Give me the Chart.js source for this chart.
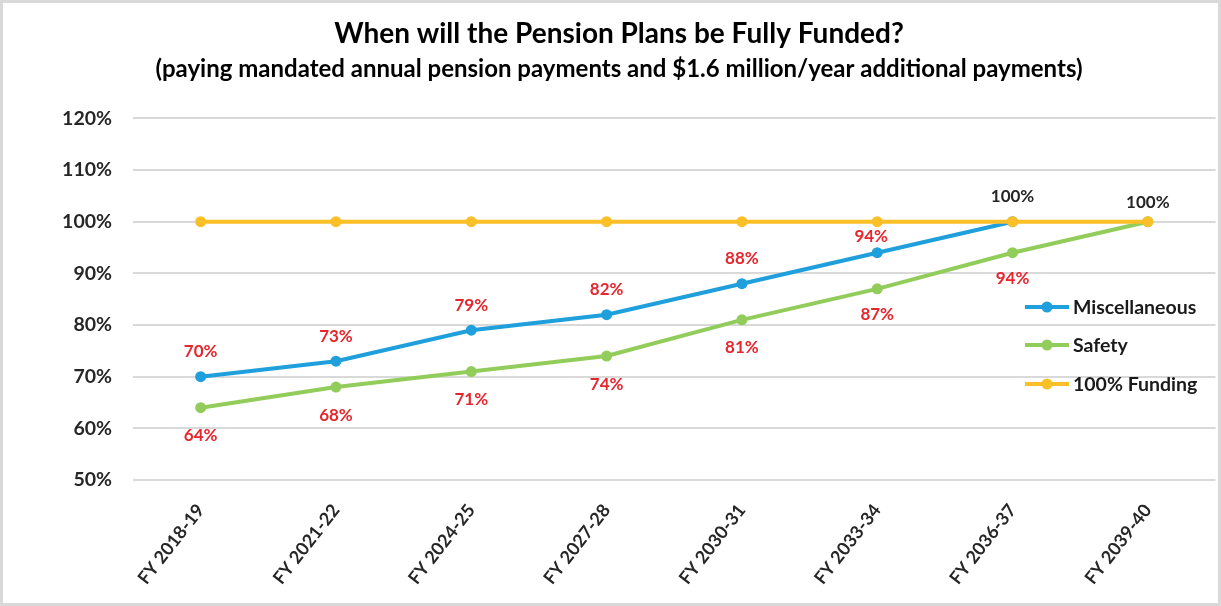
<!DOCTYPE html>
<html>
<head>
<meta charset="utf-8">
<title>Pension Funding Projection</title>
<script src="https://cdn.jsdelivr.net/npm/chart.js@4.4.1/dist/chart.umd.min.js"></script>
<style>
  html, body { margin: 0; padding: 0; background: #ffffff; }
  #wrap { position: relative; width: 1221px; height: 606px; }
</style>
</head>
<body>
<div id="wrap"><canvas id="chart" width="1221" height="606"></canvas></div>
<script>
// Fiscal years on the horizontal axis
const categories = ['FY 2018-19', 'FY 2021-22', 'FY 2024-25', 'FY 2027-28', 'FY 2030-31', 'FY 2033-34', 'FY 2036-37', 'FY 2039-40'];

// Funded ratio (%) for each plan
const miscellaneous = [70, 73, 79, 82, 88, 94, 100, null];
const safety        = [64, 68, 71, 74, 81, 87, 94, 100];
const fullFunding   = [100, 100, 100, 100, 100, 100, 100, 100];

// Y-axis tick values (%)
const yTicks = [50, 60, 70, 80, 90, 100, 110, 120];

const FONT = 'Lato, "Open Sans", "DejaVu Sans", sans-serif';
const BLUE = '#1f9fdb';
const GREEN = '#92cd5b';
const ORANGE = '#fbbf27';
const RED = '#e5262d';
const INK = '#262626';

// Thin grey frame round the whole picture
const framePlugin = {
  id: 'frame',
  beforeDraw(chart) {
    const c = chart.ctx;
    c.save();
    c.fillStyle = '#ffffff';
    c.fillRect(0, 0, chart.width, chart.height);
    c.strokeStyle = '#d9d9d9';
    c.lineWidth = 3;
    c.strokeRect(1.5, 1.5, chart.width - 3, chart.height - 3);
    c.restore();
  }
};

// Value labels: Miscellaneous above its points, Safety below; 100% in black above.
// A label that would sit on the 100% line is tucked in just under it.
const valueLabels = {
  id: 'valueLabels',
  afterDatasetsDraw(chart) {
    const c = chart.ctx;
    const yFull = chart.scales.y.getPixelForValue(100);
    c.save();
    c.font = 'bold 17px ' + FONT;
    c.textAlign = 'center';
    c.textBaseline = 'middle';
    [0, 1].forEach(di => {
      const meta = chart.getDatasetMeta(di);
      const data = chart.data.datasets[di].data;
      meta.data.forEach((pt, i) => {
        const v = data[i];
        if (v === null || v === undefined) return;
        let x = pt.x, y, color;
        if (v >= 100) {
          color = INK;
          y = pt.y + ((i === data.length - 1) ? -19 : -25);
        } else {
          color = RED;
          if (di === 0) {
            y = pt.y - 25;
            if (Math.abs(y - yFull) < 14) { y = pt.y - 16; x -= 6; }
          } else {
            y = pt.y + (v >= 85 ? 26 : 28);
          }
        }
        c.fillStyle = color;
        c.fillText(v + '%', x, y);
      });
    });
    c.restore();
  }
};

// Legend drawn inside the plot area, on the right
const insideLegend = {
  id: 'insideLegend',
  afterDraw(chart) {
    const c = chart.ctx;
    const ds = chart.data.datasets;
    const x0 = 1025, x1 = 1069, tx = 1073;
    const ys = [307, 345, 384];
    c.save();
    c.font = 'bold 19.5px ' + FONT;
    c.textBaseline = 'middle';
    c.textAlign = 'left';
    [0, 1, 2].forEach((di, k) => {
      const y = ys[k];
      const col = ds[di].borderColor;
      c.strokeStyle = col;
      c.lineWidth = 4;
      c.beginPath();
      c.moveTo(x0, y);
      c.lineTo(x1, y);
      c.stroke();
      c.fillStyle = col;
      c.beginPath();
      c.arc((x0 + x1) / 2, y, 5.5, 0, Math.PI * 2);
      c.fill();
      c.fillStyle = '#1a1a1a';
      c.fillText(ds[di].label, tx, y + 1);
    });
    c.restore();
  }
};

const chart = new Chart(document.getElementById('chart'), {
  type: 'line',
  data: {
    labels: categories,
    datasets: [
      { label: 'Miscellaneous', data: miscellaneous, borderColor: BLUE, backgroundColor: BLUE, order: 1 },
      { label: 'Safety', data: safety, borderColor: GREEN, backgroundColor: GREEN, order: 2 },
      { label: '100% Funding', data: fullFunding, borderColor: ORANGE, backgroundColor: ORANGE, order: 0 }
    ]
  },
  options: {
    responsive: false,
    animation: false,
    devicePixelRatio: 1,
    layout: { padding: { left: 20, right: 3, top: 0, bottom: 0 } },
    elements: {
      line: { borderWidth: 4, tension: 0, borderCapStyle: 'round' },
      point: { radius: 5.5, borderWidth: 0, hoverRadius: 5.5 }
    },
    plugins: {
      legend: { display: false },
      tooltip: { enabled: false },
      title: {
        display: true,
        text: 'When will the Pension Plans be Fully Funded?',
        color: '#000000',
        font: { family: FONT, size: 28, weight: 'bold', lineHeight: 1.2 },
        padding: { top: 17, bottom: 4 }
      },
      subtitle: {
        display: true,
        text: '(paying mandated annual pension payments and $1.6 million/year additional payments)',
        color: '#000000',
        font: { family: FONT, size: 24, weight: 'bold', lineHeight: 1.2 },
        padding: { top: 0, bottom: 35 }
      }
    },
    scales: {
      x: {
        offset: true,
        grid: { display: false, drawTicks: false },
        border: { display: false },
        ticks: {
          color: INK,
          font: { family: FONT, size: 18, weight: 'bold' },
          minRotation: 52,
          maxRotation: 52,
          padding: 20,
          autoSkip: false
        },
        afterFit(scale) { scale.height = 126; }
      },
      y: {
        min: 50,
        max: 120,
        afterBuildTicks(scale) { scale.ticks = yTicks.map(v => ({ value: v })); },
        grid: { color: '#d9d9d9', lineWidth: 2, drawTicks: false },
        border: { display: false },
        ticks: {
          color: INK,
          font: { family: FONT, size: 19.5, weight: 'bold' },
          padding: 21,
          callback: v => v + '%'
        },
        afterFit(scale) { scale.width = 113; }
      }
    }
  },
  plugins: [framePlugin, valueLabels, insideLegend]
});
</script>
</body>
</html>
